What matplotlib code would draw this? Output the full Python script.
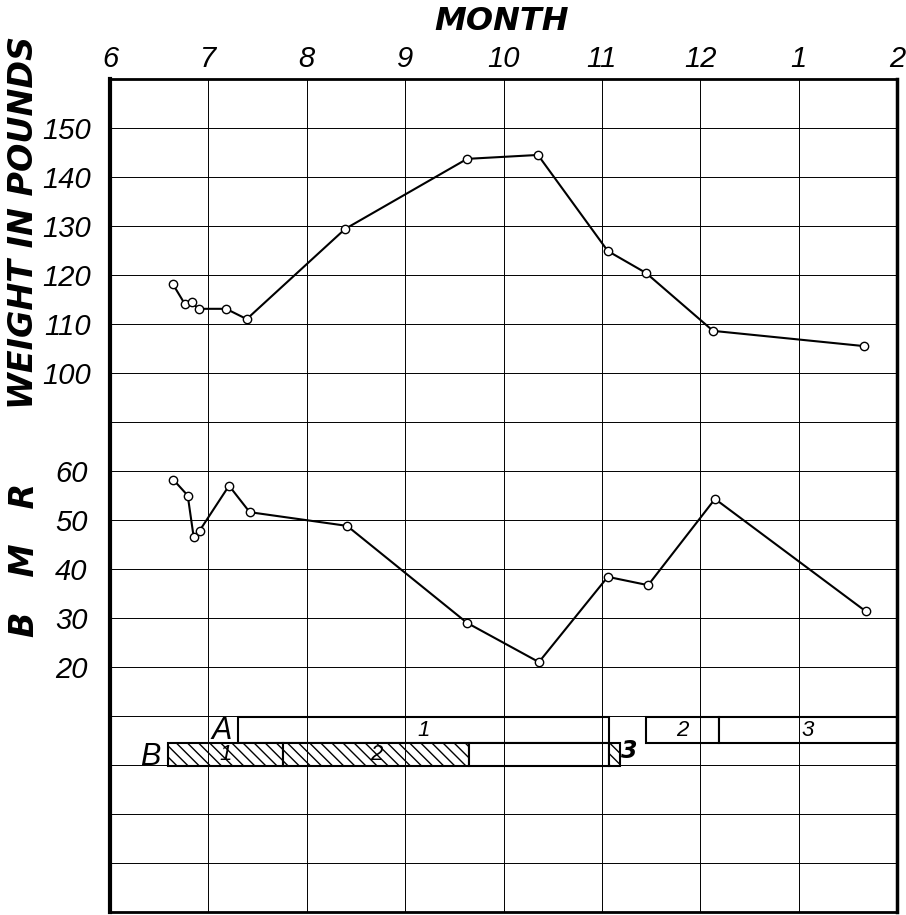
import matplotlib
matplotlib.use('Agg')
import matplotlib.pyplot as plt

month_ticks = [6, 7, 8, 9, 10, 11, 12, 13, 14]
month_labels = ['6', '7', '8', '9', '10', '11', '12', '1', '2']

weight_months = [6.64, 6.76, 6.83, 6.90, 7.18, 7.39, 8.39, 9.63, 10.35, 11.06, 11.45, 12.13, 13.66]
weight_lbs = [118.1, 114.1, 114.4, 113.1, 113.1, 111.0, 129.4, 143.7, 144.5, 124.9, 120.4, 108.6, 105.5]

bmr_months = [6.645, 6.79, 6.85, 6.91, 7.21, 7.42, 8.41, 9.63, 10.36, 11.06, 11.47, 12.15, 13.68]
bmr_values = [58.2, 55.0, 46.6, 47.8, 57.0, 51.6, 48.8, 29.0, 21.0, 38.4, 36.7, 54.3, 31.4]

# periods shown as boxes under the curves
a_starts = [7.30, 11.45, 12.19]
a_ends = [11.07, 12.19, 14.0]
a_labels = ['1', '2', '3']
b_starts = [6.59, 7.76, 9.65, 11.07]
b_ends = [7.76, 9.65, 11.07, 11.18]
b_labels = ['1', '2', '', '3']
b_hatched = [True, True, False, True]

weight_ticks = [100, 110, 120, 130, 140, 150]
bmr_ticks = [20, 30, 40, 50, 60]

tick_font = dict(family=['Liberation Sans', 'DejaVu Sans'], style='italic', weight='normal')
head_font = dict(family='DejaVu Sans', style='italic', weight='bold')

plt.rcParams['hatch.linewidth'] = 1.0

fig = plt.figure(figsize=(9.06, 9.15), dpi=100)
ax = fig.add_axes([110/906, 3/915, 787/906, 833/915])
ax.set_xlim(6, 14)
ax.set_ylim(0, 17)
ax.set_xticks(month_ticks)
ax.set_yticks(range(18))
ax.grid(color='black', lw=0.7)
ax.xaxis.tick_top()
ax.set_xticklabels(month_labels, fontsize=21, **tick_font)
ax.tick_params(length=0, labelleft=False, pad=4)
for side, w in [('left', 3), ('top', 2), ('right', 2.5), ('bottom', 2)]:
    ax.spines[side].set_linewidth(w)

# A row
a_widths = [e - s for s, e in zip(a_starts, a_ends)]
ax.barh([3.71] * len(a_starts), a_widths, left=a_starts, height=0.52,
        facecolor='white', edgecolor='black', lw=1.5)
for s, e, lab in zip(a_starts, a_ends, a_labels):
    ax.text((s + e) / 2, 3.71, lab, ha='center', va='center', fontsize=16, **tick_font)

# B row
b_widths = [e - s for s, e in zip(b_starts, b_ends)]
bars = ax.barh([3.21] * len(b_starts), b_widths, left=b_starts, height=0.48,
               facecolor='white', edgecolor='black', lw=1.5)
for patch, h in zip(bars, b_hatched):
    if h:
        patch.set_hatch('\\\\\\')
for s, e, lab in zip(b_starts, b_ends, b_labels):
    if e - s < 0.3:
        ax.text(e + 0.1, 3.28, lab, ha='center', va='center', fontsize=17,
                family='DejaVu Sans', style='italic', weight='bold')
    else:
        ax.text((s + e) / 2, 3.21, lab, ha='center', va='center', fontsize=16, **tick_font)

ax.text(7.14, 3.69, 'A', ha='center', va='center', fontsize=22, **tick_font)
ax.text(6.41, 3.16, 'B', ha='center', va='center', fontsize=22, **tick_font)

# weight curve
axw = ax.twinx()
axw.set_ylim(-10, 160)
axw.yaxis.tick_left()
axw.set_yticks(weight_ticks)
axw.set_yticklabels([str(v) for v in weight_ticks], fontsize=21, **tick_font)
axw.tick_params(length=0, pad=14)
for sp in axw.spines.values():
    sp.set_visible(False)
axw.plot(weight_months, weight_lbs, color='black', lw=1.5, marker='o', ms=6,
         mfc='white', mec='black', mew=1)

# BMR curve
axb = ax.twinx()
axb.set_ylim(-30, 140)
axb.yaxis.tick_left()
axb.set_yticks(bmr_ticks)
axb.set_yticklabels([str(v) for v in bmr_ticks], fontsize=21, **tick_font)
axb.tick_params(length=0, pad=16)
for sp in axb.spines.values():
    sp.set_visible(False)
axb.plot(bmr_months, bmr_values, color='black', lw=1.5, marker='o', ms=6,
         mfc='white', mec='black', mew=1)

fig.text(502/906, 1 - 22/915, 'MONTH', ha='center', va='center', fontsize=23, **head_font)
fig.text(24/906, 1 - 222/915, 'WEIGHT IN POUNDS', ha='center', va='center',
         rotation=90, fontsize=24, **head_font)
fig.text(24/906, 1 - 560/915, 'B   M   R', ha='center', va='center',
         rotation=90, fontsize=24, **head_font)

fig.savefig('out.png', dpi=100)
